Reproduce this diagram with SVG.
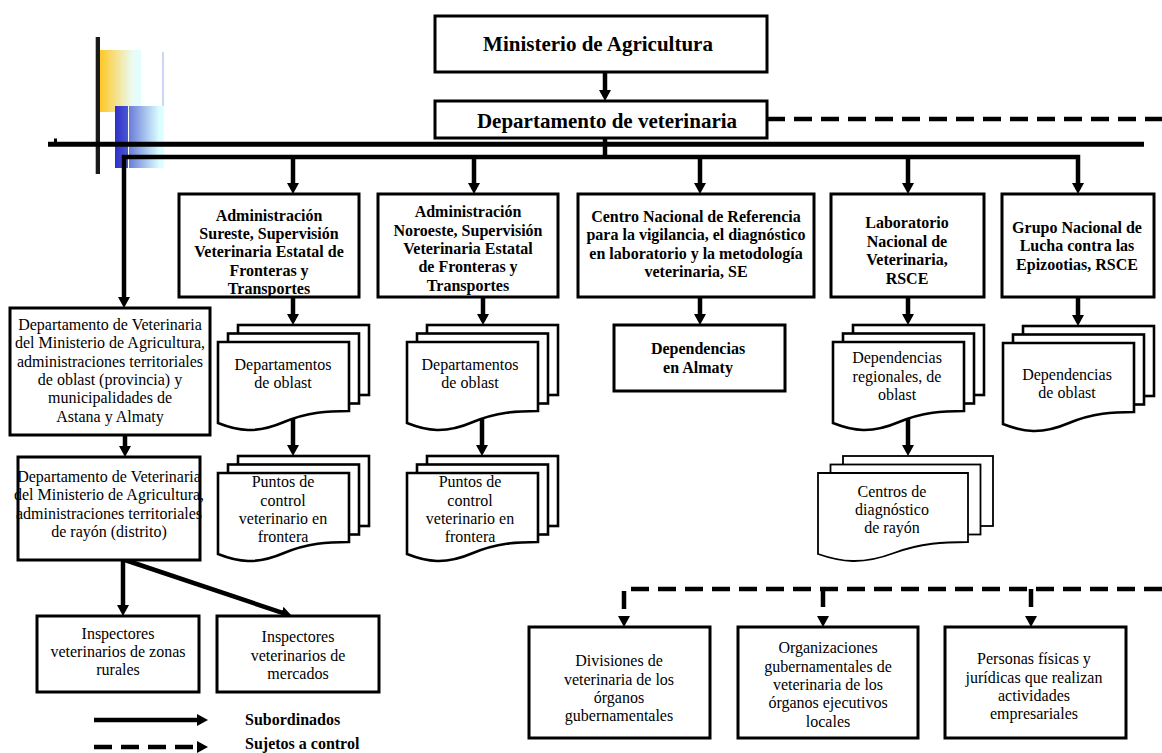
<svg xmlns="http://www.w3.org/2000/svg" width="1162" height="753" viewBox="0 0 1162 753">
<style>
.box{fill:#fff;stroke:#000;stroke-width:3}
.sheet{fill:#fff;stroke:#000;stroke-width:2.6}
.thin{stroke-width:1.8}
.b{font-family:"Liberation Serif","Times New Roman",serif;font-weight:bold;font-size:16px;text-anchor:middle;fill:#000}
.r{font-family:"Liberation Serif","Times New Roman",serif;font-size:16px;text-anchor:middle;fill:#000}
.big{font-size:21px}
.st{text-anchor:start}
.conn{stroke:#000;stroke-width:4.5;fill:none}
.arr{marker-end:url(#ah)}
.dash{stroke-dasharray:18 9}
</style>
<defs>
<marker id="ah" viewBox="0 0 11 12" refX="5" refY="6" markerWidth="11" markerHeight="12" markerUnits="userSpaceOnUse" orient="auto-start-reverse">
<path d="M0,0 L11,6 L0,12 z" fill="#000"/>
</marker>
<linearGradient id="gy" x1="0" x2="1" y1="0" y2="0">
<stop offset="0" stop-color="#FFC825"/><stop offset="0.8" stop-color="#EAFBF6"/><stop offset="1" stop-color="#E0FFFF"/>
</linearGradient>
<linearGradient id="gb1" x1="0" x2="1" y1="0" y2="0">
<stop offset="0" stop-color="#2E30C8"/><stop offset="1" stop-color="#4A58D0"/>
</linearGradient>
<linearGradient id="gb2" x1="0" x2="1" y1="0" y2="0">
<stop offset="0" stop-color="#6A7CD8"/><stop offset="0.85" stop-color="#D8FCFF"/><stop offset="1" stop-color="#E0FFFF"/>
</linearGradient>
<g id="stack">
<rect class="sheet" x="20" y="-17" width="131" height="70"/>
<rect class="sheet" x="10" y="-8.5" width="131" height="70"/>
<path class="sheet" d="M0,0 H131 V69 C110,69 90,70 66,80 C38,92 20,89 0,81 Z"/>
</g>
</defs>
<rect width="1162" height="753" fill="#fff"/>

<g id="decoration">
<rect x="100" y="50" width="41" height="62" fill="url(#gy)"/>
<line x1="163" y1="52" x2="163" y2="106" stroke="#99AEEA" stroke-width="1"/>
<rect x="115" y="106" width="13" height="62" fill="url(#gb1)"/>
<rect x="129" y="106" width="35" height="62" fill="url(#gb2)"/>
<rect x="95.7" y="37" width="4.3" height="137" fill="#1a1a1a"/>
<line x1="48" y1="144.2" x2="1144" y2="144.2" stroke="#000" stroke-width="5"/>
<rect x="54" y="138.5" width="3" height="4" fill="#000"/>
</g>

<g id="connectors">
<path class="conn arr" d="M605,72 V95"/>
<path class="conn" d="M605,138 V157"/>
<path class="conn" d="M124,302 V157 H1078 V188" marker-start="url(#ah)" marker-end="url(#ah)"/>
<path class="conn arr" d="M293,157 V188"/>
<path class="conn arr" d="M474,157 V188"/>
<path class="conn arr" d="M700,157 V188"/>
<path class="conn arr" d="M908,157 V188"/>
<path class="conn arr" d="M293,297 V319"/>
<path class="conn arr" d="M483,297 V319"/>
<path class="conn arr" d="M700,297 V319"/>
<path class="conn arr" d="M908,297 V319"/>
<path class="conn arr" d="M1078,297 V320"/>
<path class="conn arr" d="M293,405 V450"/>
<path class="conn arr" d="M482,405 V450"/>
<path class="conn arr" d="M908,405 V450"/>
<path class="conn arr" d="M125,435 V451"/>
<path class="conn arr" d="M123,560 V610"/>
<path class="conn arr" d="M125,560 L286.3,614.1"/>
<path class="conn dash" d="M767,119 H1162"/>
<path class="conn dash arr" d="M1162,589 H624 V621"/>
<path class="conn dash arr" d="M823,589 V621"/>
<path class="conn dash arr" d="M1031,589 V621"/>
</g>

<g id="n-ministerio">
<rect class="box" x="435" y="16" width="332" height="56"/>
<text class="b big" x="598" y="51">Ministerio de Agricultura</text>
</g>
<g id="n-departamento">
<rect class="box" x="435" y="101" width="332" height="37"/>
<text class="b big" x="607" y="128">Departamento de veterinaria</text>
</g>

<g id="n-sureste">
<rect class="box" x="179" y="194" width="180" height="103"/>
<text class="b" x="269"><tspan x="269" y="220.5">Administración</tspan><tspan x="269" y="239">Sureste, Supervisión</tspan><tspan x="269" y="257">Veterinaria Estatal de</tspan><tspan x="269" y="275.5">Fronteras y</tspan><tspan x="269" y="293.5">Transportes</tspan></text>
</g>
<g id="n-noroeste">
<rect class="box" x="378" y="194" width="180" height="103"/>
<text class="b" x="468"><tspan x="468" y="217">Administración</tspan><tspan x="468" y="235.5">Noroeste, Supervisión</tspan><tspan x="468" y="254">Veterinaria Estatal</tspan><tspan x="468" y="272">de Fronteras y</tspan><tspan x="468" y="290.5">Transportes</tspan></text>
</g>
<g id="n-centro">
<rect class="box" x="578" y="194" width="236" height="103"/>
<text class="b" x="696"><tspan x="696" y="222">Centro Nacional de Referencia</tspan><tspan x="696" y="240">para la vigilancia, el diagnóstico</tspan><tspan x="696" y="258.5">en laboratorio y la metodología</tspan><tspan x="696" y="277">veterinaria, SE</tspan></text>
</g>
<g id="n-laboratorio">
<rect class="box" x="831" y="194" width="153" height="103"/>
<text class="b" x="907"><tspan x="907" y="228">Laboratorio</tspan><tspan x="907" y="247">Nacional de</tspan><tspan x="907" y="265">Veterinaria,</tspan><tspan x="907" y="283.5">RSCE</tspan></text>
</g>
<g id="n-grupo">
<rect class="box" x="1002" y="194" width="152" height="103"/>
<text class="b" x="1077"><tspan x="1077" y="233">Grupo Nacional de</tspan><tspan x="1077" y="251">Lucha contra las</tspan><tspan x="1077" y="269.5">Epizootias, RSCE</tspan></text>
</g>

<g id="n-deps-sureste">
<use href="#stack" transform="translate(218,342)"/>
<text class="r" x="283"><tspan x="283" y="370">Departamentos</tspan><tspan x="283" y="388">de oblast</tspan></text>
</g>
<g id="n-puntos-sureste">
<use href="#stack" transform="translate(218,473)"/>
<text class="r" x="283"><tspan x="283" y="487">Puntos de</tspan><tspan x="283" y="505.5">control</tspan><tspan x="283" y="524">veterinario en</tspan><tspan x="283" y="542">frontera</tspan></text>
</g>
<g id="n-deps-noroeste">
<use href="#stack" transform="translate(407,342)"/>
<text class="r" x="470"><tspan x="470" y="370">Departamentos</tspan><tspan x="470" y="388">de oblast</tspan></text>
</g>
<g id="n-puntos-noroeste">
<use href="#stack" transform="translate(407,473)"/>
<text class="r" x="470"><tspan x="470" y="487">Puntos de</tspan><tspan x="470" y="505.5">control</tspan><tspan x="470" y="524">veterinario en</tspan><tspan x="470" y="542">frontera</tspan></text>
</g>
<g id="n-almaty">
<rect class="box" x="614" y="325" width="171" height="66"/>
<text class="b" x="698"><tspan x="698" y="354">Dependencias</tspan><tspan x="698" y="373">en Almaty</tspan></text>
</g>
<g id="n-deps-lab">
<use href="#stack" transform="translate(833,342)"/>
<text class="r" x="897"><tspan x="897" y="363">Dependencias</tspan><tspan x="897" y="382">regionales, de</tspan><tspan x="897" y="400">oblast</tspan></text>
</g>
<g id="n-deps-grupo">
<use href="#stack" transform="translate(1003,343)"/>
<text class="r" x="1067"><tspan x="1067" y="380">Dependencias</tspan><tspan x="1067" y="398">de oblast</tspan></text>
</g>
<g id="n-centros">
<rect class="sheet thin" x="843" y="456" width="150" height="70"/>
<rect class="sheet thin" x="830.5" y="464.5" width="150" height="70"/>
<path class="sheet thin" d="M818,473 H968 V542 C944,542 921,543 894,553 C862,565 841,562 818,554 Z"/>
<text class="r" x="892"><tspan x="892" y="497">Centros de</tspan><tspan x="892" y="515">diagnóstico</tspan><tspan x="892" y="533">de rayón</tspan></text>
</g>

<g id="n-dep-oblast">
<rect class="box" x="10" y="308" width="200" height="127"/>
<text class="r" x="110"><tspan x="110" y="330">Departamento de Veterinaria</tspan><tspan x="110" y="348.3">del Ministerio de Agricultura,</tspan><tspan x="110" y="366.6">administraciones territoriales</tspan><tspan x="110" y="384.9">de oblast (provincia) y</tspan><tspan x="110" y="403.2">municipalidades de</tspan><tspan x="110" y="421.5">Astana y Almaty</tspan></text>
</g>
<g id="n-dep-rayon">
<rect class="box" x="18" y="457" width="182" height="103"/>
<text class="r" x="109"><tspan x="109" y="482">Departamento de Veterinaria</tspan><tspan x="109" y="500">del Ministerio de Agricultura,</tspan><tspan x="109" y="518.5">administraciones territoriales</tspan><tspan x="109" y="537">de rayón (distrito)</tspan></text>
</g>
<g id="n-insp-rurales">
<rect class="box" x="37" y="616" width="162" height="76"/>
<text class="r" x="118"><tspan x="118" y="639">Inspectores</tspan><tspan x="118" y="657">veterinarios de zonas</tspan><tspan x="118" y="675">rurales</tspan></text>
</g>
<g id="n-insp-mercados">
<rect class="box" x="217" y="616" width="162" height="76"/>
<text class="r" x="298"><tspan x="298" y="642">Inspectores</tspan><tspan x="298" y="661">veterinarios de</tspan><tspan x="298" y="679">mercados</tspan></text>
</g>

<g id="n-divisiones">
<rect class="box" x="529" y="627" width="181" height="111"/>
<text class="r" x="619"><tspan x="619" y="666">Divisiones de</tspan><tspan x="619" y="684.5">veterinaria de los</tspan><tspan x="619" y="703">órganos</tspan><tspan x="619" y="721">gubernamentales</tspan></text>
</g>
<g id="n-organizaciones">
<rect class="box" x="738" y="627" width="180" height="111"/>
<text class="r" x="828"><tspan x="828" y="653">Organizaciones</tspan><tspan x="828" y="671.5">gubernamentales de</tspan><tspan x="828" y="690">veterinaria de los</tspan><tspan x="828" y="708">órganos ejecutivos</tspan><tspan x="828" y="726.5">locales</tspan></text>
</g>
<g id="n-personas">
<rect class="box" x="945" y="627" width="181" height="111"/>
<text class="r" x="1034"><tspan x="1034" y="664">Personas físicas y</tspan><tspan x="1034" y="682.5">jurídicas que realizan</tspan><tspan x="1034" y="701">actividades</tspan><tspan x="1034" y="719">empresariales</tspan></text>
</g>

<g id="legend">
<path class="conn arr" d="M94,720 H202"/>
<path class="conn dash arr" d="M94,747 H202"/>
<text class="b st" x="245" y="725">Subordinados</text>
<text class="b st" x="245" y="749">Sujetos a control</text>
</g>
</svg>
